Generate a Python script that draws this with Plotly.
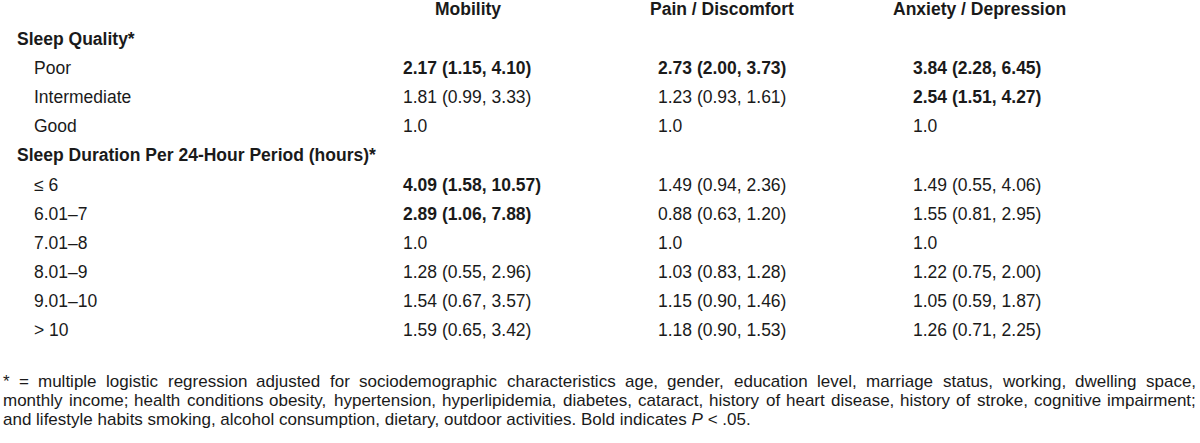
import plotly.graph_objects as go

columns = ["Mobility", "Pain / Discomfort", "Anxiety / Depression"]
rows = ["Sleep Quality*", "Poor", "Intermediate", "Good",
        "Sleep Duration Per 24-Hour Period (hours)*",
        "≤ 6", "6.01–7", "7.01–8", "8.01–9", "9.01–10", "> 10"]
row_is_group = [True, False, False, False, True, False, False, False, False, False, False]
mobility = ["", "2.17 (1.15, 4.10)", "1.81 (0.99, 3.33)", "1.0", "",
            "4.09 (1.58, 10.57)", "2.89 (1.06, 7.88)", "1.0",
            "1.28 (0.55, 2.96)", "1.54 (0.67, 3.57)", "1.59 (0.65, 3.42)"]
pain = ["", "2.73 (2.00, 3.73)", "1.23 (0.93, 1.61)", "1.0", "",
        "1.49 (0.94, 2.36)", "0.88 (0.63, 1.20)", "1.0",
        "1.03 (0.83, 1.28)", "1.15 (0.90, 1.46)", "1.18 (0.90, 1.53)"]
anxiety = ["", "3.84 (2.28, 6.45)", "2.54 (1.51, 4.27)", "1.0", "",
           "1.49 (0.55, 4.06)", "1.55 (0.81, 2.95)", "1.0",
           "1.22 (0.75, 2.00)", "1.05 (0.59, 1.87)", "1.26 (0.71, 2.25)"]
mobility_bold = [False, True, False, False, False, True, True, False, False, False, False]
pain_bold = [False, True, False, False, False, False, False, False, False, False, False]
anxiety_bold = [False, True, True, False, False, False, False, False, False, False, False]
footnote_lines = [
    "* = multiple logistic regression adjusted for sociodemographic characteristics age, gender, education level, marriage status, working, dwelling space,",
    "monthly income; health conditions obesity, hypertension, hyperlipidemia, diabetes, cataract, history of heart disease, history of stroke, cognitive impairment;",
    "and lifestyle habits smoking, alcohol consumption, dietary, outdoor activities. Bold indicates <i>P</i> < .05.",
]
footnote_justified = [True, True, False]

FONT = "Liberation Sans, Arial, sans-serif"
COLOR = "#1a1a1a"
SIZE = 17.5
FOOT_SIZE = 17

header_y = 9
row_y0 = 39
row_step = 29.1
label_x_group = 17
label_x_item = 34
col_x = [403, 658, 913]
col_center = [468, 722, 979]
foot_x0, foot_x1 = 3, 1196
foot_ys = [381, 400, 419]

# Arial / Liberation Sans advance widths (per 1000 em) for justification
W = {" ": 278, "(": 333, ")": 333, "*": 389, ",": 278, "-": 333, ".": 278, "/": 278,
     ":": 278, ";": 278, "<": 584, "=": 584, ">": 584}
W.update({d: 556 for d in "0123456789"})
W.update(dict(zip("abcdefghijklmnopqrstuvwxyz",
                  [556, 556, 500, 556, 556, 278, 556, 556, 222, 222, 500, 222, 833,
                   556, 556, 556, 556, 333, 500, 278, 556, 500, 722, 500, 500, 500])))
W.update(dict(zip("ABCDEFGHIJKLMNOPQRSTUVWXYZ",
                  [667, 667, 722, 722, 667, 611, 778, 722, 278, 500, 667, 556, 833,
                   722, 778, 667, 778, 722, 667, 611, 722, 667, 944, 667, 667, 611])))


def text_width(s, size):
    return sum(W.get(ch, 556) for ch in s) * size / 1000.0


fig = go.Figure()
fig.add_trace(go.Scatter(x=[0, 1200], y=[0, 443], mode="markers",
                         marker=dict(opacity=0), hoverinfo="skip"))


def add_text(x, y, s, size=SIZE, bold=False, anchor="left"):
    if not s:
        return
    fig.add_annotation(
        x=x, y=y, xref="x", yref="y", text=f"<b>{s}</b>" if bold else s,
        showarrow=False, xanchor=anchor, yanchor="middle",
        borderpad=0, borderwidth=0,
        font=dict(family=FONT, size=size, color=COLOR))


for c, cx in zip(columns, col_center):
    add_text(cx, header_y, c, bold=True, anchor="center")

row_ys = [row_y0 + i * row_step for i in range(len(rows))]
for r, g, y in zip(rows, row_is_group, row_ys):
    add_text(label_x_group if g else label_x_item, y, r, bold=g)

for cx, vals, bolds in zip(col_x, [mobility, pain, anxiety],
                           [mobility_bold, pain_bold, anxiety_bold]):
    for v, b, y in zip(vals, bolds, row_ys):
        add_text(cx, y, v, bold=b)

for line, just, y in zip(footnote_lines, footnote_justified, foot_ys):
    if not just:
        add_text(foot_x0, y, line, size=FOOT_SIZE)
        continue
    words = line.split(" ")
    widths = [text_width(w, FOOT_SIZE) for w in words]
    gap = (foot_x1 - foot_x0 - sum(widths)) / (len(words) - 1)
    x = foot_x0
    for w, wd in zip(words, widths):
        add_text(x, y, w, size=FOOT_SIZE)
        x += wd + gap

fig.update_layout(
    width=1200, height=443, margin=dict(l=0, r=0, t=0, b=0),
    paper_bgcolor="white", plot_bgcolor="white", showlegend=False,
    xaxis=dict(range=[0, 1200], visible=False, fixedrange=True),
    yaxis=dict(range=[443, 0], visible=False, fixedrange=True),
)

fig.write_html("out.html", config={"displayModeBar": False},
               post_script="document.body.style.margin='0';")
